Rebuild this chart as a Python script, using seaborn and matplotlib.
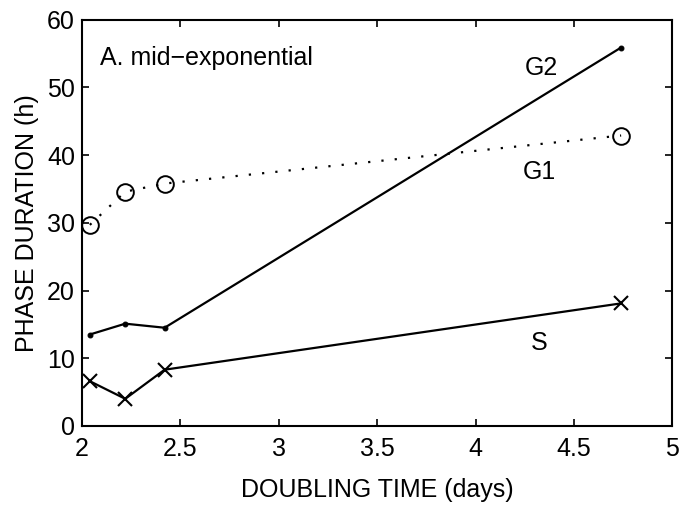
import seaborn as sns
import matplotlib.pyplot as plt
import pandas as pd

doubling = [2.04, 2.22, 2.42, 4.74]
g1 = [29.7, 34.6, 35.8, 42.9]
g2 = [13.5, 15.1, 14.5, 55.9]
s_phase = [6.6, 4.0, 8.3, 18.1]

sns.set_style("ticks")
plt.rcParams['font.family'] = ['Liberation Sans', 'DejaVu Sans']
plt.rcParams['xtick.direction'] = 'in'
plt.rcParams['ytick.direction'] = 'in'
for key in ['text.color', 'axes.labelcolor', 'xtick.color', 'ytick.color', 'axes.edgecolor']:
    plt.rcParams[key] = 'black'

df = pd.DataFrame({'days': doubling, 'G1': g1, 'G2': g2, 'S': s_phase})

fig = plt.figure(figsize=(6.86, 5.07), dpi=100)
ax = fig.add_axes([0.1195, 0.16, 0.8605, 0.801])

sns.lineplot(data=df, x='days', y='G1', ax=ax, color='black', linewidth=1.6,
             linestyle=(0, (1, 5)), marker='o', markersize=12,
             markerfacecolor='none', markeredgecolor='black', markeredgewidth=1.4)
sns.lineplot(data=df, x='days', y='G2', ax=ax, color='black', linewidth=1.6,
             marker='o', markersize=3.5, markeredgecolor='black')
sns.lineplot(data=df, x='days', y='S', ax=ax, color='black', linewidth=1.6,
             marker='x', markersize=10, markeredgewidth=1.5, markeredgecolor='black')

ax.set_xlim(2, 5)
ax.set_ylim(0, 60)
ax.set_xticks([2, 2.5, 3, 3.5, 4, 4.5, 5])
ax.set_xticklabels(['2', '2.5', '3', '3.5', '4', '4.5', '5'])
ax.set_yticks([0, 10, 20, 30, 40, 50, 60])
ax.tick_params(labelsize=18, length=5, width=1.2, top=True, right=True)
ax.tick_params(axis='x', pad=8)
ax.tick_params(axis='y', pad=5)
for sp in ax.spines.values():
    sp.set_linewidth(1.5)

ax.set_xlabel('DOUBLING TIME (days)', fontsize=18, labelpad=12)
ax.set_ylabel('PHASE DURATION (h)', fontsize=18, labelpad=6)

ax.text(2.09, 54.3, 'A. mid\u2212exponential', fontsize=18, va='center')
ax.text(4.25, 52.9, 'G2', fontsize=18, va='center')
ax.text(4.24, 37.5, 'G1', fontsize=18, va='center')
ax.text(4.28, 12.3, 'S', fontsize=18, va='center')

fig.savefig('out.png', dpi=100)
